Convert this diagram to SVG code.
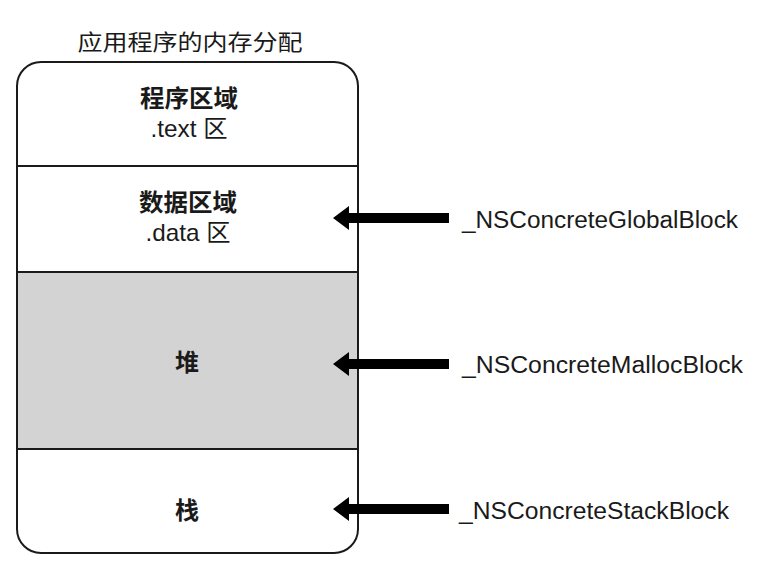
<svg xmlns="http://www.w3.org/2000/svg" width="760" height="576" viewBox="0 0 760 576">
<style>
.t{font-family:"Liberation Sans","Noto Sans CJK SC",sans-serif;fill:#1a1a1a;text-anchor:middle}
.b{font-weight:bold;font-size:24px}
.s{font-size:24px}
.lab{font-family:"Liberation Sans",sans-serif;fill:#1a1a1a;font-size:23px}
.ln{stroke:#1a1a1a;stroke-width:2;fill:none}
.arr{fill:#000}
</style>
<rect width="760" height="576" fill="#fff"/>
<text class="t" x="190" y="50" font-size="22" fill="#333" textLength="225" lengthAdjust="spacingAndGlyphs">应用程序的内存分配</text>
<g id="memory">
<clipPath id="c"><rect x="17" y="62" width="341" height="491" rx="24"/></clipPath>
<rect x="17" y="272" width="341" height="177" fill="#d3d3d3" clip-path="url(#c)"/>
<rect class="ln" x="17" y="62" width="341" height="491" rx="24"/>
<line class="ln" x1="17" y1="166" x2="358" y2="166"/>
<line class="ln" x1="17" y1="272" x2="358" y2="272"/>
<line class="ln" x1="17" y1="449" x2="358" y2="449"/>
</g>
<g id="text-seg">
<text class="t b" x="189" y="107" textLength="98" lengthAdjust="spacingAndGlyphs">程序区域</text>
<text class="t s" x="189" y="137" textLength="77" lengthAdjust="spacingAndGlyphs">.text 区</text>
</g>
<g id="data-seg">
<text class="t b" x="188" y="211" textLength="98" lengthAdjust="spacingAndGlyphs">数据区域</text>
<text class="t s" x="188" y="241" textLength="85" lengthAdjust="spacingAndGlyphs">.data 区</text>
</g>
<g id="heap">
<text class="t b" x="187" y="371">堆</text>
</g>
<g id="stack">
<text class="t b" x="187" y="519">栈</text>
</g>
<g id="connectors">
<path class="arr" d="M449 213 L349 213 L349 206 L333 218 L349 230 L349 223 L449 223 Z"/>
<path class="arr" d="M449 359 L349 359 L349 352 L333 364 L349 376 L349 369 L449 369 Z"/>
<path class="arr" d="M449 504 L349 504 L349 497 L333 509 L349 521 L349 514 L449 514 Z"/>
</g>
<g id="labels">
<text class="lab" x="462" y="228" textLength="276" lengthAdjust="spacingAndGlyphs">_NSConcreteGlobalBlock</text>
<text class="lab" x="462" y="373" textLength="281" lengthAdjust="spacingAndGlyphs">_NSConcreteMallocBlock</text>
<text class="lab" x="459" y="519" textLength="270" lengthAdjust="spacingAndGlyphs">_NSConcreteStackBlock</text>
</g>
</svg>
